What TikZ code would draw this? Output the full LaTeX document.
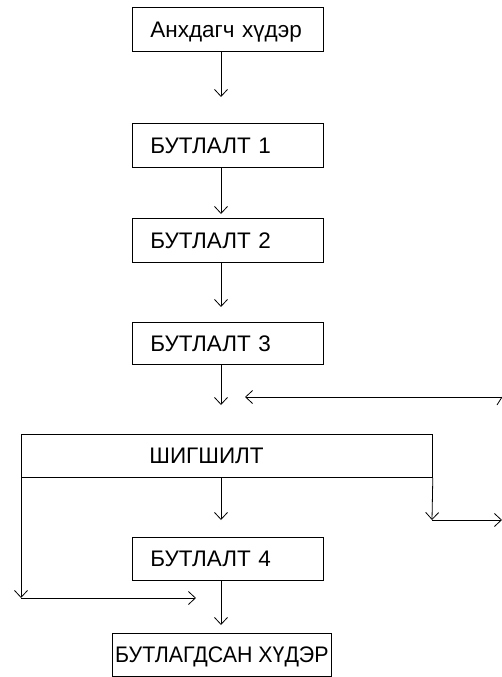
\documentclass[tikz,border=0pt]{standalone}
\usepackage{fontspec}
\setmainfont{Liberation Sans}
\usetikzlibrary{arrows.meta}
\begin{document}
\begin{tikzpicture}[x=1pt,y=-1pt,
  every node/.style={font=\fontsize{22.5}{26}\selectfont},
  box/.style={draw, line width=0.8pt, anchor=north west, align=left, inner ysep=0pt, text height=16pt, text depth=0pt},
  arr/.style={line width=0.8pt, -{Straight Barb[length=7pt,width=13pt,line width=0.8pt]}},
  ln/.style={line width=0.8pt}]
\useasboundingbox (0,0) rectangle (502,677);
\node[box, minimum height=44pt, inner xsep=18pt, text width=155pt] (n1) at (132,7) {Анхдагч хүдэр};
\node[box, minimum height=44pt, inner xsep=18pt, text width=155pt] (n2) at (132,123) {БУТЛАЛТ 1};
\node[box, minimum height=44pt, inner xsep=18pt, text width=155pt] (n3) at (132,218) {БУТЛАЛТ 2};
\node[box, minimum height=42pt, inner xsep=18pt, text width=155pt] (n4) at (132,322) {БУТЛАЛТ 3};
\node[box, minimum height=43pt, inner xsep=128pt, text width=155pt] (sh) at (21,434) {ШИГШИЛТ};
\node[box, minimum height=43pt, inner xsep=18pt, text width=155pt] (n5) at (132,537) {БУТЛАЛТ 4};
\node[box, minimum height=43pt, minimum width=219pt, inner xsep=2pt] (n6) at (112,633) {\addfontfeature{FakeStretch=0.95}БУТЛАГДСАН ХҮДЭР};
\coordinate (ax) at (221,0);
\coordinate (a1) at (221,97);
\coordinate (a2) at (221,214);
\coordinate (a3) at (221,307);
\coordinate (a4) at (221,405);
\coordinate (rs) at (502,397);
\coordinate (re) at (245,397);
\coordinate (rt) at (497,405);
\coordinate (sm) at (221,520);
\coordinate (rl) at (432,520);
\coordinate (rr) at (502,520);
\coordinate (ll) at (21,598);
\coordinate (lr) at (196,598);
\coordinate (a5) at (221,625);
\draw[arr] (n1.south -| ax) -- (a1);
\draw[arr] (n2.south -| ax) -- (a2);
\draw[arr] (n3.south -| ax) -- (a3);
\draw[arr] (n4.south -| ax) -- (a4);
\draw[arr] (rs) -- (re);
\draw[ln] (rs) -- (rt);
\draw[arr] (sh.south -| ax) -- (sm);
\draw[arr] (sh.south east) -- (rl);
\draw[arr] (rl) -- (rr);
\draw[arr] (sh.south west) -- (ll);
\draw[arr] (ll) -- (lr);
\draw[arr] (n5.south -| ax) -- (a5);
\end{tikzpicture}
\end{document}
